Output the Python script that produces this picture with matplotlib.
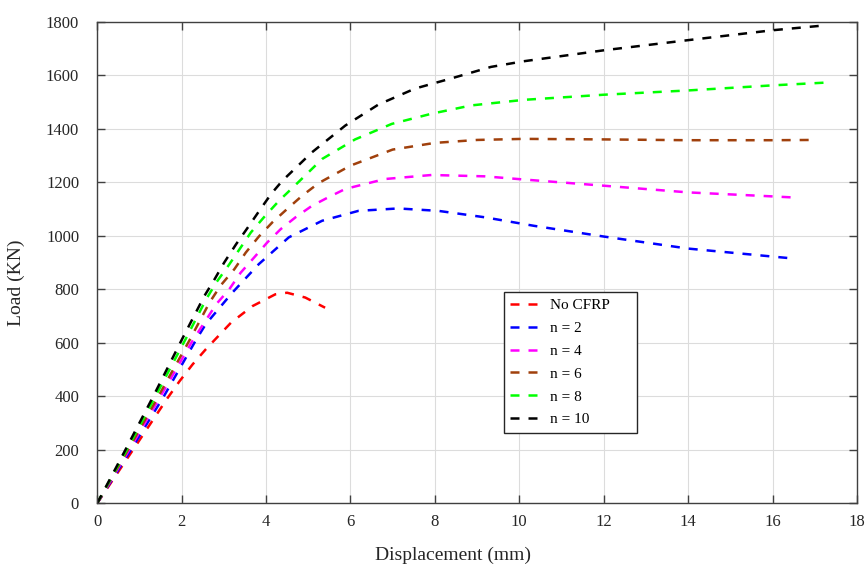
import matplotlib
matplotlib.use("Agg")
import matplotlib.pyplot as plt

plt.rcParams['font.family'] = ['Liberation Serif', 'DejaVu Serif']
plt.rcParams['mathtext.fontset'] = 'stix'

# 荷载-位移曲线数据
red_x = [0, 0.85, 1.67, 1.95, 2.26, 2.57, 3.17, 3.68, 4.22, 4.50, 4.93, 5.40]
red_y = [0, 200, 394, 456, 519, 575, 675, 737, 781, 787, 769, 731]

blue_x = [0, 0.8, 1.58, 2.34, 2.57, 3.2, 3.83, 4.54, 5.33, 6.19, 7.13, 8.08, 9.18, 10.35, 12, 14, 16.48]
blue_y = [0, 200, 400, 610, 669, 787, 894, 994, 1056, 1093, 1102, 1093, 1069, 1037, 997, 952, 915]

mag_x = [0, 0.76, 1.5, 2.25, 2.82, 3.13, 3.40, 3.72, 4.03, 4.35, 4.70, 5.09, 5.48, 5.88, 6.82, 7.92,
         9.18, 10.12, 12, 14, 16, 16.62]
mag_y = [0, 200, 400, 605, 744, 800, 862, 919, 975, 1025, 1069, 1112, 1144, 1175, 1212, 1227,
         1222, 1210, 1187, 1162, 1147, 1142]

brown_x = [0, 0.73, 1.45, 2.19, 2.66, 2.93, 3.25, 3.52, 3.83, 4.15, 4.50, 4.86, 5.25, 6.0, 7.0, 8.0,
           9.0, 10.1, 12, 14, 16, 16.97]
brown_y = [0, 200, 400, 610, 750, 815, 875, 937, 997, 1050, 1100, 1150, 1197, 1262, 1322, 1347,
           1358, 1362, 1360, 1357, 1357, 1358]

green_x = [0, 0.70, 1.38, 2.1, 2.58, 2.82, 3.13, 3.40, 3.64, 3.95, 4.31, 4.68, 5.33, 6.11, 6.98, 7.92,
           8.86, 10.12, 12, 14, 16, 17.22]
green_y = [0, 200, 400, 615, 762, 825, 893, 956, 1012, 1069, 1131, 1187, 1287, 1360, 1418, 1456,
           1487, 1508, 1527, 1543, 1562, 1572]

black_x = [0, 0.67, 1.33, 2.0, 2.54, 2.78, 3.01, 3.29, 3.57, 3.84, 4.12, 4.39, 5.09, 5.88, 6.66, 7.53,
           8.39, 9.33, 10.1, 12, 14, 16, 17.3]
black_y = [0, 200, 400, 610, 775, 837, 900, 968, 1031, 1093, 1156, 1206, 1312, 1412, 1490, 1550,
           1588, 1631, 1652, 1693, 1731, 1768, 1787]

labels = ['No CFRP', 'n = 2', 'n = 4', 'n = 6', 'n = 8', 'n = 10']
colors = ['#ff0000', '#0000ff', '#ff00ff', '#a0400c', '#00ff00', '#000000']
series = [(red_x, red_y), (blue_x, blue_y), (mag_x, mag_y),
          (brown_x, brown_y), (green_x, green_y), (black_x, black_y)]

x_ticks = list(range(0, 19, 2))
y_ticks = list(range(0, 1801, 200))

fig = plt.figure(figsize=(8.66, 5.72), dpi=100)
ax = fig.add_axes([0.1122, 0.1201, 0.8774, 0.842])

for (xs, ys), c, lab in zip(series, colors, labels):
    ax.plot(xs, ys, color=c, lw=1.8, linestyle=(0, (3.6, 3.6)), label=lab)

ax.set_xlim(0, 18)
ax.set_ylim(0, 1800)
ax.set_xticks(x_ticks)
ax.set_yticks(y_ticks)
ax.grid(True, color='#dcdcdc', lw=0.8)
ax.set_axisbelow(True)

for sp in ax.spines.values():
    sp.set_color('#404040')
    sp.set_linewidth(1.0)

ax.tick_params(direction='in', length=6, width=1, color='#404040',
               top=True, right=True, labelsize=12, labelcolor='#262626')
ax.tick_params(axis='x', pad=8)
ax.tick_params(axis='y', pad=13)

ax.set_xlabel('Displacement (mm)', fontsize=14, color='#262626')
ax.set_ylabel('Load (KN)', fontsize=14, color='#262626')
ax.xaxis.set_label_coords(0.468, -0.091)
ax.yaxis.set_label_coords(-0.095, 0.457)

leg = ax.legend(loc='upper left', bbox_to_anchor=(0.5354, 0.0934, 0.1754, 0.3446),
                mode='expand', borderaxespad=0, fontsize=11, handlelength=1.96,
                handletextpad=0.65, labelspacing=0.6, fancybox=False, framealpha=1,
                edgecolor='#262626')
leg.get_frame().set_linewidth(1.0)

fig.savefig('out.png', dpi=100)
